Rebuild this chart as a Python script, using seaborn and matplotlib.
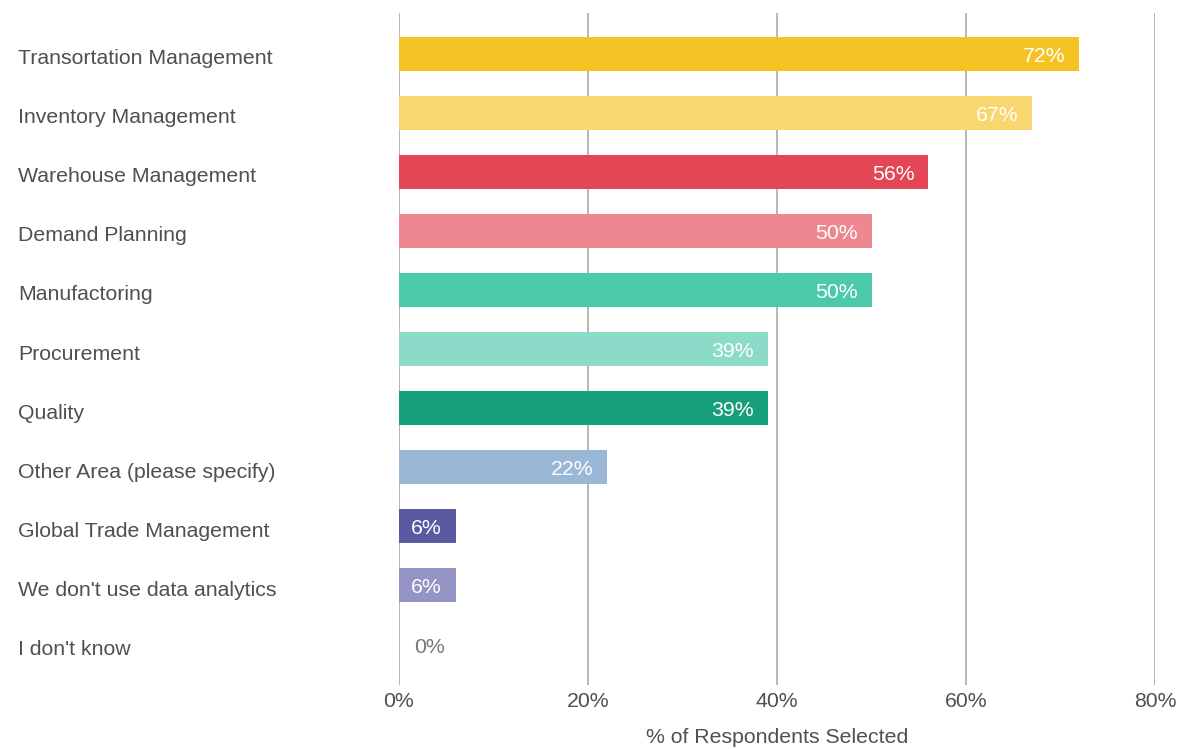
import matplotlib
matplotlib.use("Agg")
import matplotlib.pyplot as plt
import matplotlib.transforms as mtransforms
import seaborn as sns
import pandas as pd

categories = [
    "Transortation Management",
    "Inventory Management",
    "Warehouse Management",
    "Demand Planning",
    "Manufactoring",
    "Procurement",
    "Quality",
    "Other Area (please specify)",
    "Global Trade Management",
    "We don't use data analytics",
    "I don't know",
]
values = [72, 67, 56, 50, 50, 39, 39, 22, 6, 6, 0]
colors = ["#F5C323", "#F8D770", "#E44656", "#ED8890", "#4CC9AB", "#8CDBC8",
          "#179E7A", "#9BB7D6", "#5A5AA2", "#9494C4", "#9494C4"]
x_ticks = [0, 20, 40, 60, 80]
x_label = "% of Respondents Selected"

sns.set_theme(style="white")
plt.rcParams["font.family"] = ["Liberation Sans", "DejaVu Sans"]
text_color = "#4F4F54"
fs = 15.3

df = pd.DataFrame({"category": categories, "value": values})

fig = plt.figure(figsize=(11.82, 7.49), dpi=100)
ax = fig.add_axes([399 / 1182, 1 - 685 / 749, (1155 - 399) / 1182, (685 - 13) / 749])

sns.barplot(data=df, y="category", x="value", hue="category", palette=colors,
            order=categories, hue_order=categories, legend=False, width=0.58,
            saturation=1, ax=ax, zorder=3, linewidth=0)

ax.set_xlim(0, 80)
ax.set_ylim(len(categories) - 1 + 0.69, -0.69)
ax.set_xticks(x_ticks)
ax.set_xticklabels([f"{t}%" for t in x_ticks], color=text_color, fontsize=fs)
ax.xaxis.grid(True, color="#ABABA5", linewidth=1.2, zorder=0)
ax.yaxis.grid(False)
for s in ax.spines.values():
    s.set_visible(False)
ax.tick_params(axis="both", length=0)
ax.tick_params(axis="x", pad=5)
ax.tick_params(axis="y", pad=274)
shift = mtransforms.ScaledTranslation(0, -3 / 100, fig.dpi_scale_trans)
for lbl in ax.get_yticklabels():
    lbl.set_horizontalalignment("left")
    lbl.set_color(text_color)
    lbl.set_fontsize(fs)
    lbl.set_transform(lbl.get_transform() + shift)
ax.set_ylabel("")
ax.set_xlabel(x_label, color=text_color, fontsize=fs, labelpad=12)

for i, v in enumerate(values):
    if v > 0:
        ax.annotate(f"{v}%", xy=(v, i), xytext=(-10, -2), textcoords="offset points",
                    ha="right", va="center", color="white", fontsize=fs, zorder=4)
    else:
        ax.annotate(f"{v}%", xy=(v, i), xytext=(11, -2), textcoords="offset points",
                    ha="left", va="center", color="#77777A", fontsize=fs, zorder=4)

fig.savefig("out.png", dpi=100)
